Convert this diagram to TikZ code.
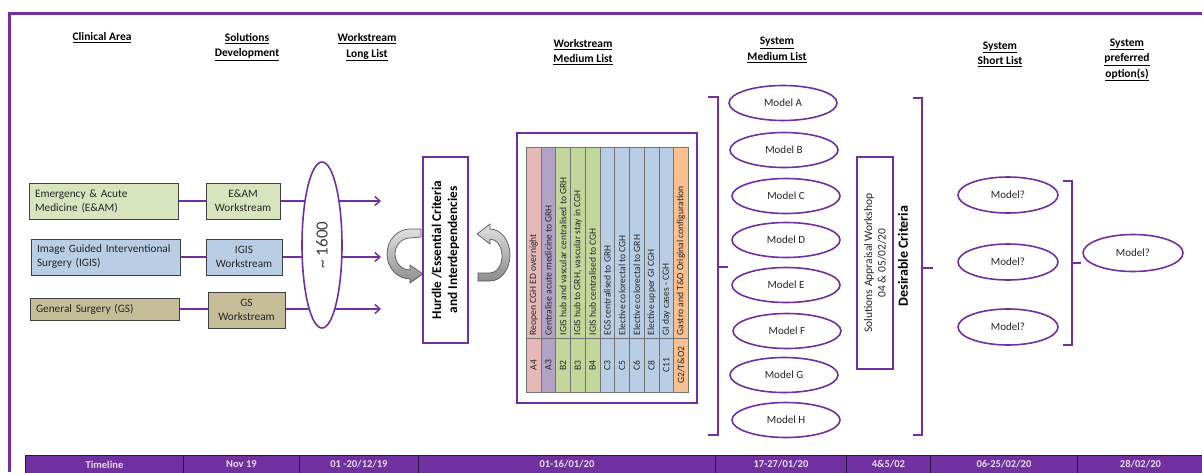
\documentclass[tikz,border=0pt]{standalone}
\usepackage{fontspec}
\setmainfont{Carlito}
\usetikzlibrary{shapes.geometric,arrows.meta,backgrounds}
\definecolor{purp}{HTML}{7030A0}
\definecolor{cgreen}{HTML}{D7E4BD}
\definecolor{cblue}{HTML}{B9CDE5}
\definecolor{ctan}{HTML}{C4BD97}
\definecolor{tpink}{HTML}{E6B9B8}
\definecolor{tlav}{HTML}{B3A2C7}
\definecolor{tgreen}{HTML}{C3D69B}
\definecolor{tblue}{HTML}{B9CDE5}
\definecolor{torange}{HTML}{FAC090}
\definecolor{tlborder}{HTML}{2E1440}
\definecolor{tltext}{HTML}{E8DDF2}
\definecolor{darktxt}{HTML}{262626}
\begin{document}
\begin{tikzpicture}[x=1pt,y=-1pt,
  hdr/.style={font=\fontsize{11.5}{15.5}\selectfont\bfseries, align=center, inner sep=0},
  cbox/.style={draw=black!75, line width=0.8pt, inner sep=0, font=\fontsize{11.3}{14}\selectfont, text=darktxt},
  lbox/.style={cbox, minimum height=36pt, text width=141pt, align=left, inner xsep=4pt},
  wbox/.style={cbox, minimum height=36pt, align=center},
  model/.style={ellipse, draw=purp, line width=1.6pt, fill=white, minimum width=108pt, minimum height=35pt, inner sep=0, font=\fontsize{11}{13}\selectfont, text=darktxt},
  pline/.style={draw=purp, line width=1.5pt},
  parrow/.style={pline, -{Straight Barb[length=5pt,width=9pt,line width=1.5pt]}},
  brk/.style={draw=purp, line width=1.6pt},
  tlcell/.style={draw=tlborder, line width=0.9pt, fill=purp, text=tltext, font=\fontsize{10.5}{12}\selectfont\bfseries, inner sep=0, minimum height=18pt, anchor=north west},
  tcell/.style={draw=black!55, line width=0.5pt, inner sep=0, anchor=north west, minimum width=14.73pt},
  ttxt/.style={rotate=90, inner sep=0, font=\fontsize{9.6}{11}\selectfont, text=darktxt},
  curv/.style={top color=black!12, bottom color=black!45, draw=black!65, line width=0.7pt}
]
\useasboundingbox (0,0) rectangle (1202,472);
% frame
\draw[purp, line width=3pt] (1202,13) -- (9,13) -- (9,472);

% headers
\node[hdr] (h1) at (102,38) {\underline{Clinical Area}};
\node[hdr] (h2) at (247,47) {\underline{Solutions}\\\underline{Development}};
\node[hdr] (h3) at (367,47.5) {\underline{Workstream}\\\underline{Long List}};
\node[hdr] (h4) at (583,52) {\underline{Workstream}\\\underline{Medium List}};
\node[hdr] (h5) at (777,50) {\underline{System}\\\underline{Medium List}};
\node[hdr] (h6) at (1000,54.5) {\underline{System}\\\underline{Short List}};
\node[hdr] (h7) at (1127,60) {\underline{System}\\\underline{preferred}\\\underline{option(s)}};

% left boxes
\node[lbox, fill=cgreen] (cl1) at (103.5,201) {\hspace*{2pt}Emergency \& Acute\\\hspace*{2pt}Medicine (E\&AM)};
\node[lbox, fill=cblue] (cl2) at (105.5,257) {\hspace*{2pt}Image Guided Interventional\\\hspace*{2pt}Surgery (IGIS)};
\node[lbox, fill=ctan, minimum height=22pt] (cl3) at (104.5,309) {\hspace*{2pt}General Surgery (GS)};
\node[wbox, fill=cgreen, minimum width=74pt] (ws1) at (243,201) {E\&AM\\Workstream};
\node[wbox, fill=cblue, minimum width=76pt] (ws2) at (244,257) {IGIS\\Workstream};
\node[wbox, fill=ctan, minimum width=77pt] (ws3) at (246.5,310) {GS\\Workstream};

% ellipse ~1600
\node[ellipse, draw=purp, line width=1.6pt, fill=white, rotate=90, minimum width=166pt, minimum height=40pt, inner sep=0, font=\fontsize{17}{20}\selectfont, text=black!75] (ell) at (322,245) {\textasciitilde\ 1600};

\coordinate (a1) at (381,201);
\coordinate (a2) at (381,257);
\coordinate (a3) at (381,309);
\begin{pgfonlayer}{background}
\draw[parrow] (cl1.east) -- (a1);
\draw[parrow] (cl2.east) -- (a2);
\draw[parrow] (cl3.east) -- (a3);
\end{pgfonlayer}

% curved arrows
\path[curv] (421,229) -- (410,229) arc[start angle=-90, end angle=-270, x radius=23, y radius=25]
  -- (410,283) -- (423,274) -- (410,265) -- (410,270)
  arc[start angle=-270, end angle=-90, x radius=15, y radius=16] -- (421,237) -- cycle;
\path[curv] (478,281) -- (490,281) arc[start angle=90, end angle=-90, x radius=20, y radius=26]
  -- (490,224) -- (477,234) -- (490,244) -- (490,239)
  arc[start angle=-90, end angle=90, x radius=12, y radius=17] -- (478,273) -- cycle;

% hurdle box
\node[draw=purp, line width=1.6pt, fill=white, rotate=90, minimum width=186pt, minimum height=45pt, inner sep=0, align=center, font=\fontsize{13.3}{16}\selectfont\bfseries] (hurdle) at (445.5,250) {Hurdle /Essential Criteria\\and Interdependencies};

% medium list box
\node[draw=purp, line width=1.8pt, minimum width=180pt, minimum height=270pt, inner sep=0] (mlist) at (607,268) {};
\foreach \i/\code/\txt/\col in {
  1/A4/{Reopen CGH ED overnight}/tpink,
  2/A3/{Centralise acute medicine to GRH}/tlav,
  3/B2/{IGIS hub and vascular centralised to GRH}/tgreen,
  4/B3/{IGIS hub to GRH, vascular stay in CGH}/tgreen,
  5/B4/{IGIS hub centralised to CGH}/tgreen,
  6/C3/{EGS centralised to GRH}/tblue,
  7/C5/{Elective colorectal to CGH}/tblue,
  8/C6/{Elective colorectal to GRH}/tblue,
  9/C8/{Elective upper GI CGH}/tblue,
  10/C11/{GI day cases - CGH}/tblue,
  11/{G2/T\&O2}/{Gastro and T\&O Original configuration}/torange}{
  \pgfmathsetmacro{\xl}{526+(\i-1)*14.73}
  \node[tcell, fill=\col, minimum height=191pt] (t\i) at (\xl,147) {};
  \node[tcell, fill=\col, minimum height=54pt] (b\i) at (\xl,338) {};
  \node[ttxt, anchor=west] (tt\i) at ([yshift=3pt]t\i.south) {\txt};
  \node[ttxt] (bt\i) at (b\i.center) {\code};
}

% left bracket
\draw[brk] (708,97) -- (718,97) -- (718,435) -- (708,435);
\draw[brk] (718,267) -- (728,267);

% models
\node[model] (mA) at (783,103) {Model A};
\node[model] (mB) at (784,150) {Model B};
\node[model] (mC) at (786,196) {Model C};
\node[model] (mD) at (786,240) {Model D};
\node[model] (mE) at (786,285) {Model E};
\node[model] (mF) at (787,331) {Model F};
\node[model] (mG) at (784,375) {Model G};
\node[model] (mH) at (786,420) {Model H};

% solutions appraisal
\node[draw=purp, line width=1.2pt, rotate=90, minimum width=212pt, minimum height=36pt, inner sep=0, align=center, font=\fontsize{11.5}{13.5}\selectfont, text=darktxt] (sa) at (875,263) {Solutions Appraisal Workshop\\04 \& 05/02/20};
\node[rotate=90, inner sep=0, font=\fontsize{14}{16}\selectfont\bfseries] (dc) at (903,256) {Desirable Criteria};

% right bracket
\draw[brk] (913,98) -- (922,98) -- (922,435) -- (913,435);
\draw[brk] (922,268) -- (933,268);

% short list
\node[model, minimum width=100pt, minimum height=36pt] (s1) at (1008,195) {Model?};
\node[model, minimum width=100pt, minimum height=36pt] (s2) at (1008,262) {Model?};
\node[model, minimum width=100pt, minimum height=36pt] (s3) at (1008,327) {Model?};
\draw[brk] (1063,181) -- (1072,181) -- (1072,345) -- (1063,345);
\draw[brk] (1072,263) -- (1081,263);
\node[model, minimum width=100pt, minimum height=37pt] (fin) at (1133,253) {Model?};

% timeline
\foreach \i/\xa/\xb/\lab in {1/25/183/{Timeline}, 2/183/299/{Nov 19}, 3/299/418/{01 -20/12/19}, 4/418/715/{01-16/01/20}, 5/715/846/{17-27/01/20}, 6/846/930/{4\&5/02}, 7/930/1077/{06-25/02/20}, 8/1077/1203/{28/02/20}}{
  \pgfmathsetmacro{\w}{\xb-\xa}
  \node[tlcell, minimum width=\w pt] (tl\i) at (\xa,455) {\lab};
}
\end{tikzpicture}
\end{document}
